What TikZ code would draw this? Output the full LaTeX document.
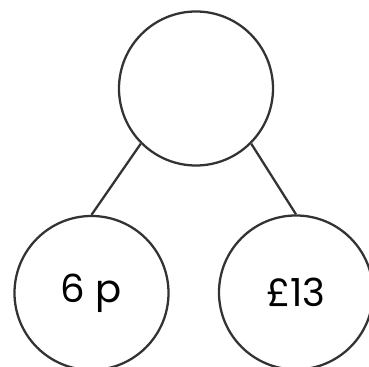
\documentclass[tikz,border=0pt]{standalone}
\usepackage{fontspec}
\setmainfont{Poppins}
\usepackage{tikz}

\begin{document}
\begin{tikzpicture}[>=latex,
  partcircle/.style={circle, draw=black!80, line width=1.3pt, minimum size=3.08cm, inner sep=0pt, font=\fontsize{22}{24}\selectfont},
  link/.style={draw=black!80, line width=1.3pt}]
  % frame 369 x 367 px, 1 px -> 0.02 cm
  \useasboundingbox (0,0) rectangle (7.38,7.34);

  % Whole (empty) and the two parts
  \node[partcircle] (whole) at (3.92,5.57) {};
  \node[partcircle] (partA) at (1.83,1.48) {6 p};
  \node[partcircle] (partB) at (5.92,1.49) {£13};

  % Links whole -> parts
  \draw[link] (whole.225) -- (partA.north);
  \draw[link] (whole.-45) -- (partB.north);
\end{tikzpicture}
\end{document}
